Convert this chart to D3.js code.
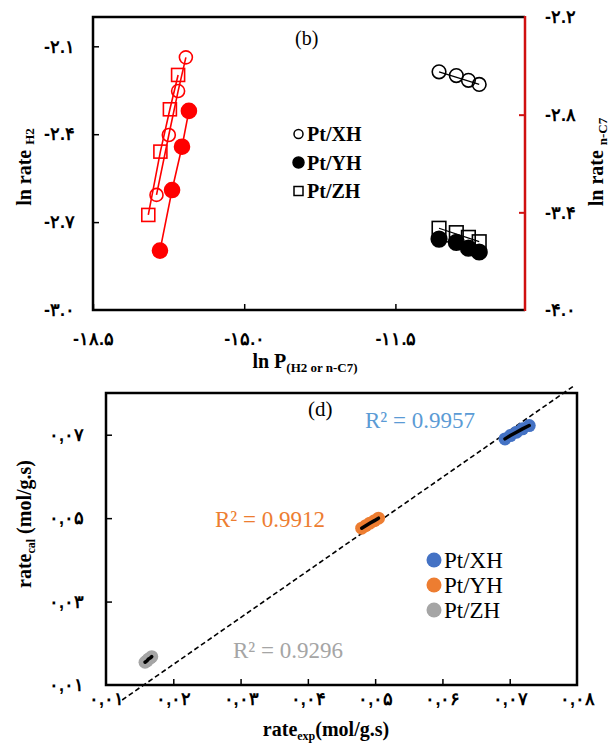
<!DOCTYPE html>
<html>
<head>
<meta charset="utf-8">
<script src="https://cdn.jsdelivr.net/npm/d3@7"></script>
<style>
  body { margin: 0; background: #fff; }
  svg { display: block; font-family: "Liberation Serif", "Times New Roman", "DejaVu Sans", serif; }
</style>
</head>
<body>
<div id="wrapper"></div>
<script>
// ---- top panel (b) data ----
// red series -> right axis (ln rate n-C7)
const redXH_x = [-17.03, -16.745, -16.53, -16.35]
const redXH_y = [-3.293, -2.925, -2.655, -2.448]
const redYH_x = [-16.95, -16.67, -16.44, -16.28]
const redYH_y = [-3.635, -3.263, -2.997, -2.777]
const redZH_x = [-17.22, -16.94, -16.72, -16.53]
const redZH_y = [-3.416, -3.027, -2.767, -2.556]
// black series -> left axis (ln rate H2)
const blackX = [-10.49, -10.09, -9.81, -9.56]
const blackXH_y = [-2.187, -2.200, -2.216, -2.230]
const blackYH_y = [-2.758, -2.769, -2.789, -2.802]
const blackZH_y = [-2.721, -2.736, -2.752, -2.767]
const topXTicks = [-18.5, -15.0, -11.5]
const topLeftTicks = [-3.0, -2.7, -2.4, -2.1]
const topRightTicks = [-4.0, -3.4, -2.8, -2.2]
const topLegend = ["Pt/XH", "Pt/YH", "Pt/ZH"]

// ---- bottom panel (d) data ----
const xhExp = [0.0693, 0.0701, 0.0710, 0.0719, 0.0729]
const xhCal = [0.0690, 0.0698, 0.0706, 0.0714, 0.0722]
const yhExp = [0.0480, 0.0486, 0.0492, 0.0499, 0.0505]
const yhCal = [0.0476, 0.0482, 0.0488, 0.0494, 0.0500]
const zhExp = [0.0158, 0.0161, 0.0163, 0.0166, 0.0168]
const zhCal = [0.01545, 0.0158, 0.0162, 0.0165, 0.0168]
const fitLine = [[0.0124, 0.0064], [0.0797, 0.0819]]
const r2Labels = ["R² = 0.9957", "R² = 0.9912", "R² = 0.9296"]
const bottomXTicks = [0.01, 0.02, 0.03, 0.04, 0.05, 0.06, 0.07, 0.08]
const bottomYTicks = [0.01, 0.03, 0.05, 0.07]

const persian = s => s.replace(/[0-9]/g, d => "۰۱۲۳۴۵۶۷۸۹"[+d])
const fmtTop = v => persian(d3.format(".1f")(v).replace("−", "-"))
const fmtBottom = v => persian(d3.format(".2f")(v)).replace(".", ",")

const width = 614, height = 751

const svg = d3.select("#wrapper").append("svg")
  .attr("width", width)
  .attr("height", height)

// ================= panel (b) =================
const boxB = { left: 93, right: 525, top: 17, bottom: 310 }

const xTop = d3.scaleLinear().domain([-18.5, -8.5]).range([boxB.left, boxB.right])
const yLeft = d3.scaleLinear().domain([-3.0, -2.0]).range([boxB.bottom, boxB.top])
const yRight = d3.scaleLinear().domain([-4.0, -2.2]).range([boxB.bottom, boxB.top])

const bAxisX = svg.append("g")
  .attr("transform", `translate(0,${boxB.bottom})`)
  .call(d3.axisBottom(xTop).tickValues(topXTicks).tickFormat(fmtTop)
    .tickSizeInner(-6).tickSizeOuter(0).tickPadding(22))
const bAxisL = svg.append("g")
  .attr("transform", `translate(${boxB.left},0)`)
  .call(d3.axisLeft(yLeft).tickValues(topLeftTicks).tickFormat(fmtTop)
    .tickSizeInner(-6).tickSizeOuter(0).tickPadding(18))
const bAxisR = svg.append("g")
  .attr("transform", `translate(${boxB.right},0)`)
  .call(d3.axisRight(yRight).tickValues(topRightTicks).tickFormat(fmtTop)
    .tickSizeInner(-6).tickSizeOuter(0).tickPadding(20))

;[bAxisX, bAxisL, bAxisR].forEach(a => {
  a.select(".domain").remove()
  a.selectAll("text").style("font-size", "18px").style("font-weight", "bold").attr("fill", "#000")
  a.selectAll("line").attr("stroke-width", 1.5)
})
bAxisL.selectAll(".tick").filter(d => d === -3.0).select("line").remove()
bAxisR.selectAll(".tick line").attr("stroke", "#d01010").attr("stroke-width", 2)
bAxisR.selectAll(".tick").filter(d => d === -4.0 || d === -2.2).select("line").remove()

// frame
svg.append("path")
  .attr("d", `M${boxB.right},${boxB.top}H${boxB.left}V${boxB.bottom}H${boxB.right}`)
  .attr("fill", "none").attr("stroke", "#000").attr("stroke-width", 2.5)
svg.append("line")
  .attr("x1", boxB.right).attr("x2", boxB.right)
  .attr("y1", boxB.top - 1).attr("y2", boxB.bottom + 1)
  .attr("stroke", "#d01010").attr("stroke-width", 2.5)

const zipPts = (xs, ys) => xs.map((x, i) => [x, ys[i]])
const lineR = d3.line().x(d => xTop(d[0])).y(d => yRight(d[1]))
const lineL = d3.line().x(d => xTop(d[0])).y(d => yLeft(d[1]))

const redSeries = [
  { pts: zipPts(redXH_x, redXH_y), shape: "open-circle" },
  { pts: zipPts(redZH_x, redZH_y), shape: "square" },
  { pts: zipPts(redYH_x, redYH_y), shape: "filled-circle" },
]
const blackSeries = [
  { pts: zipPts(blackX, blackZH_y), shape: "square" },
  { pts: zipPts(blackX, blackYH_y), shape: "filled-circle" },
  { pts: zipPts(blackX, blackXH_y), shape: "open-circle" },
]

const drawMarkers = (g, pts, shape, color, sx, sy, r) => {
  if (shape === "square") {
    g.selectAll(null).data(pts).enter().append("rect")
      .attr("x", d => sx(d[0]) - r).attr("y", d => sy(d[1]) - r)
      .attr("width", 2 * r).attr("height", 2 * r)
      .attr("fill", "none").attr("stroke", color).attr("stroke-width", 1.6)
  } else {
    g.selectAll(null).data(pts).enter().append("circle")
      .attr("cx", d => sx(d[0])).attr("cy", d => sy(d[1]))
      .attr("r", shape === "filled-circle" ? r + 1 : r)
      .attr("fill", shape === "filled-circle" ? color : "none")
      .attr("stroke", color).attr("stroke-width", 1.6)
  }
}

const redG = svg.append("g")
redSeries.forEach(s => {
  redG.append("path").attr("d", lineR(s.pts))
    .attr("fill", "none").attr("stroke", "#ff0000").attr("stroke-width", 1.6)
  drawMarkers(redG, s.pts, s.shape, "#ff0000", xTop, yRight, 6.5)
})
const blackG = svg.append("g")
blackSeries.forEach(s => {
  drawMarkers(blackG, s.pts, s.shape, "#000", xTop, yLeft, 6.8)
  blackG.append("path").attr("d", lineL([s.pts[0], s.pts[s.pts.length - 1]]))
    .attr("fill", "none").attr("stroke", "#000").attr("stroke-width", 1.3)
})

svg.append("text").attr("x", 295).attr("y", 45)
  .style("font-size", "20px").text("(b)")

// legend (b)
const legB = svg.append("g")
const legShapes = ["open-circle", "filled-circle", "square"]
topLegend.forEach((name, i) => {
  const cy = 134 + i * 28.5
  const g = legB.append("g")
  if (legShapes[i] === "square") {
    g.append("rect").attr("x", 294).attr("y", cy - 4.5).attr("width", 9).attr("height", 9)
      .attr("fill", "none").attr("stroke", "#000").attr("stroke-width", 1.5)
  } else {
    g.append("circle").attr("cx", 298.5).attr("cy", cy)
      .attr("r", legShapes[i] === "filled-circle" ? 5.5 : 4.5)
      .attr("fill", legShapes[i] === "filled-circle" ? "#000" : "none")
      .attr("stroke", "#000").attr("stroke-width", 1.5)
  }
  g.append("text").attr("x", 307).attr("y", cy + 7)
    .style("font-size", "20px").style("font-weight", "bold").text(name)
})

// axis titles (b)
const tX = svg.append("text").attr("x", 305).attr("y", 368).attr("text-anchor", "middle")
  .style("font-weight", "bold")
tX.append("tspan").style("font-size", "20px").text("ln P")
tX.append("tspan").style("font-size", "13px").attr("dy", 4).text("(H2 or n-C7)")

const tYL = svg.append("text").attr("transform", "translate(31,167) rotate(-90)")
  .attr("text-anchor", "middle").style("font-weight", "bold")
tYL.append("tspan").style("font-size", "20px").text("ln rate ")
tYL.append("tspan").style("font-size", "13px").attr("dy", 3).text("H2")

const tYR = svg.append("text").attr("transform", "translate(603,162) rotate(-90)")
  .attr("text-anchor", "middle").style("font-weight", "bold")
tYR.append("tspan").style("font-size", "20px").text("ln rate ")
tYR.append("tspan").style("font-size", "13px").attr("dy", 4).text("n-C7")

// ================= panel (d) =================
const boxD = { left: 106, right: 577, top: 393, bottom: 685 }
const xBot = d3.scaleLinear().domain([0.01, 0.08]).range([boxD.left, boxD.right])
const yBot = d3.scaleLinear().domain([0.01, 0.08]).range([boxD.bottom, boxD.top])

const dAxisX = svg.append("g")
  .attr("transform", `translate(0,${boxD.bottom})`)
  .call(d3.axisBottom(xBot).tickValues(bottomXTicks).tickFormat(fmtBottom)
    .tickSizeInner(-6).tickSizeOuter(0).tickPadding(7))
const dAxisY = svg.append("g")
  .attr("transform", `translate(${boxD.left},0)`)
  .call(d3.axisLeft(yBot).tickValues(bottomYTicks).tickFormat(fmtBottom)
    .tickSizeInner(-6).tickSizeOuter(0).tickPadding(22))
;[dAxisX, dAxisY].forEach(a => {
  a.select(".domain").remove()
  a.selectAll("text").style("font-size", "18px").style("font-weight", "bold").attr("fill", "#000")
  a.selectAll("line").attr("stroke-width", 1.5)
})
dAxisX.selectAll(".tick").filter(d => d === 0.01 || d === 0.08).select("line").remove()
dAxisY.selectAll(".tick").filter(d => d === 0.01).select("line").remove()

svg.append("rect")
  .attr("x", boxD.left).attr("y", boxD.top)
  .attr("width", boxD.right - boxD.left).attr("height", boxD.bottom - boxD.top)
  .attr("fill", "none").attr("stroke", "#000").attr("stroke-width", 2.5)

// parity fit line
svg.append("path")
  .attr("d", d3.line().x(d => xBot(d[0])).y(d => yBot(d[1]))(fitLine))
  .attr("fill", "none").attr("stroke", "#000").attr("stroke-width", 1.6)
  .attr("stroke-dasharray", "5,3")

const clusters = [
  { pts: zipPts(xhExp, xhCal), color: "#4472c4" },
  { pts: zipPts(yhExp, yhCal), color: "#ed7d31" },
  { pts: zipPts(zhExp, zhCal), color: "#a5a5a5" },
]
const lineD = d3.line().x(d => xBot(d[0])).y(d => yBot(d[1]))
clusters.forEach(c => {
  svg.append("g").selectAll("circle").data(c.pts).enter().append("circle")
    .attr("cx", d => xBot(d[0])).attr("cy", d => yBot(d[1]))
    .attr("r", 6.5).attr("fill", c.color)
  svg.append("path").attr("d", lineD(c.pts))
    .attr("fill", "none").attr("stroke", "#000").attr("stroke-width", 3.5)
    .attr("stroke-linecap", "round")
})

// R² labels
const r2Pos = [[365, 428, "#5b9bd5"], [215, 527, "#ed7d31"], [233, 658, "#a5a5a5"]]
r2Labels.forEach((t, i) => {
  svg.append("text").attr("x", r2Pos[i][0]).attr("y", r2Pos[i][1])
    .attr("fill", r2Pos[i][2]).style("font-size", "23px").text(t)
})

svg.append("text").attr("x", 308).attr("y", 416)
  .style("font-size", "21px").text("(d)")

// legend (d)
const legColors = ["#4472c4", "#ed7d31", "#a5a5a5"]
topLegend.forEach((name, i) => {
  const cy = 560 + i * 25
  svg.append("circle").attr("cx", 434).attr("cy", cy).attr("r", 7.5).attr("fill", legColors[i])
  svg.append("text").attr("x", 444).attr("y", cy + 8)
    .style("font-size", "23px").text(name)
})

// axis titles (d)
const dX = svg.append("text").attr("x", 326).attr("y", 736).attr("text-anchor", "middle")
  .style("font-weight", "bold")
dX.append("tspan").style("font-size", "20px").text("rate")
dX.append("tspan").style("font-size", "12px").attr("dy", 4).text("exp")
dX.append("tspan").style("font-size", "20px").attr("dy", -4).text("(mol/g.s)")

const dY = svg.append("text").attr("transform", "translate(31,524) rotate(-90)")
  .attr("text-anchor", "middle").style("font-weight", "bold")
dY.append("tspan").style("font-size", "20px").text("rate")
dY.append("tspan").style("font-size", "12px").attr("dy", 4).text("cal")
dY.append("tspan").style("font-size", "20px").attr("dy", -4).text(" (mol/g.s)")
</script>
</body>
</html>
